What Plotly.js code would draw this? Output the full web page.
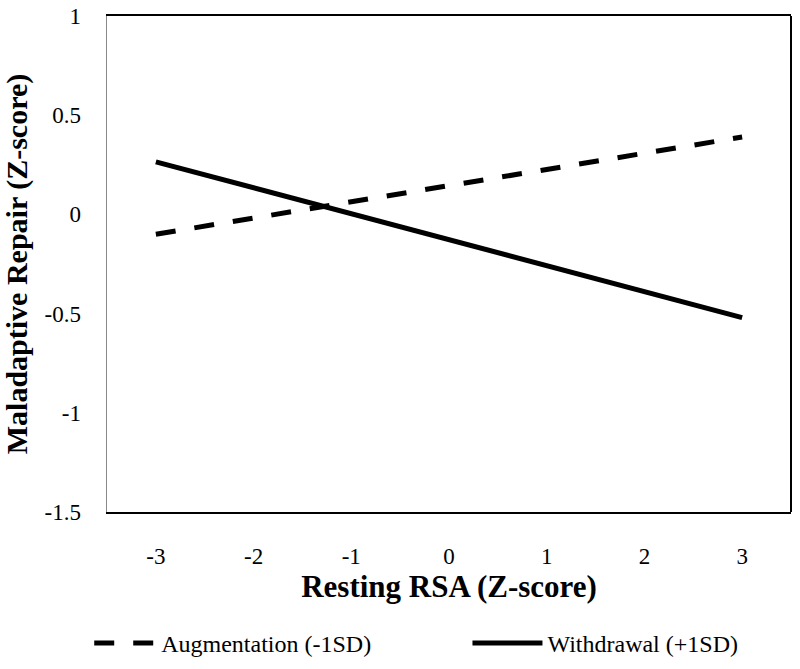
<!DOCTYPE html>
<html>
<head>
<meta charset="utf-8">
<script src="https://cdn.plot.ly/plotly-3.0.1.min.js"></script>
<style>html,body{margin:0;padding:0;background:#fff;}#chart{width:800px;height:669px;}</style>
</head>
<body>
<div id="chart"></div>
<script>
const xValues = [-3, 3];
const augmentation = [-0.10, 0.39];
const withdrawal = [0.265, -0.52];
const seriesNames = ["Augmentation (-1SD)", "Withdrawal (+1SD)"];
const xTicks = [-3, -2, -1, 0, 1, 2, 3];
const yTicks = [-1.5, -1, -0.5, 0, 0.5, 1];

const font = "Times New Roman, Liberation Serif, serif";

const traces = [
  {x: xValues, y: augmentation, name: seriesNames[0], mode: "lines", type: "scatter",
   legend: "legend", line: {color: "#000", width: 5, dash: "20px,19px"}},
  {x: xValues, y: withdrawal, name: seriesNames[1], mode: "lines", type: "scatter",
   legend: "legend2", line: {color: "#000", width: 5}}
];

const legendFont = {family: font, size: 24, color: "#000"};

const layout = {
  width: 800, height: 669,
  margin: {l: 107, r: 9, t: 16, b: 157, autoexpand: false},
  paper_bgcolor: "#fff", plot_bgcolor: "#fff",
  font: {family: font, color: "#000", size: 20},
  showlegend: true,
  legend: {orientation: "h", x: -0.026, xanchor: "left", y: -0.265, yanchor: "middle",
    font: legendFont, itemwidth: 62, bgcolor: "rgba(0,0,0,0)"},
  legend2: {orientation: "h", x: 0.527, xanchor: "left", y: -0.265, yanchor: "middle",
    font: legendFont, itemwidth: 70, bgcolor: "rgba(0,0,0,0)"},
  xaxis: {range: [-3.5, 3.5], tickvals: xTicks, ticktext: xTicks.map(String), automargin: true,
    showgrid: false, zeroline: false, showline: true, linecolor: "#000", linewidth: 2, mirror: true,
    ticks: "", ticklabelstandoff: 22, tickfont: {family: font, size: 23},
    title: {text: "<b>Resting RSA (Z-score)</b>", font: {family: font, size: 31}, standoff: 0}},
  yaxis: {range: [-1.5, 1], tickvals: yTicks, ticktext: yTicks.map(String), automargin: true,
    showgrid: false, zeroline: false, showline: true, linecolor: "#888", linewidth: 1.5,
    ticks: "", ticklabelstandoff: 20, tickfont: {family: font, size: 23},
    title: {text: "<b>Maladaptive Repair (Z-score)</b>", font: {family: font, size: 30}, standoff: 12}},
  shapes: [{type: "line", xref: "paper", yref: "paper", x0: 1, x1: 1, y0: 0, y1: 1,
    line: {color: "#000", width: 2}}]
};

Plotly.newPlot("chart", traces, layout, {displayModeBar: false, staticPlot: true});
</script>
</body>
</html>
